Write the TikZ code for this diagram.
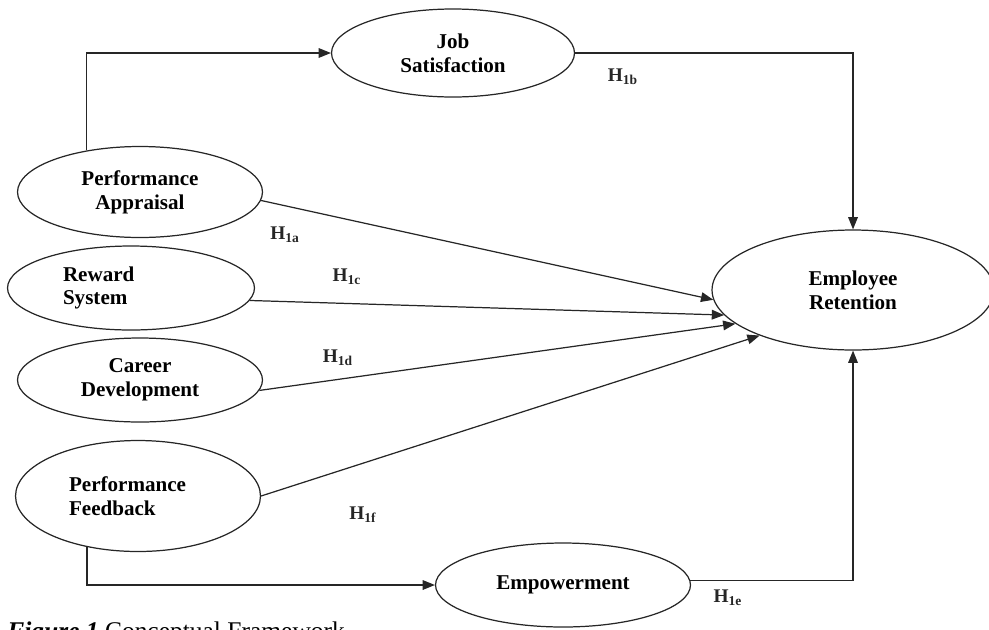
\documentclass[tikz,border=0pt]{standalone}
\usepackage{fontspec}
\setmainfont{Liberation Serif}
\usepackage{tikz}
\usetikzlibrary{shapes.geometric,arrows.meta}

\begin{document}
\begin{tikzpicture}[
  x=0.02cm, y=-0.02cm,
  cons/.style={ellipse, draw=black!85, line width=0.7pt, inner sep=0pt, align=center,
    font=\bfseries\fontsize{12}{13.5}\selectfont},
  flow/.style={-{Triangle[length=7pt,width=5.5pt]}, draw=black!85, line width=0.7pt},
  hyp/.style={font=\bfseries\fontsize{11}{12}\selectfont, text=black!85}
]
\useasboundingbox (0,0) rectangle (989,629);
\clip (0,0) rectangle (989,629);

% Left: the five practices
\node[cons, minimum width=4.9cm, minimum height=1.82cm] (pa) at (140,192) {Performance\\Appraisal};
\node[cons, minimum width=4.94cm, minimum height=1.68cm, text width=2.72cm, align=left] (rew) at (131,288) {Reward\\System};
\node[cons, minimum width=4.9cm, minimum height=1.68cm] (car) at (140,380) {Career\\Development};
\node[cons, minimum width=4.9cm, minimum height=2.22cm, text width=2.76cm, align=left] (fb) at (138,496) {Performance\\Feedback};

% Mediators and outcome
\node[cons, minimum width=4.86cm, minimum height=1.76cm] (job) at (453,53) {Job\\Satisfaction};
\node[cons, minimum width=5.1cm, minimum height=1.68cm] (emp) at (563,585) {Empowerment};
\node[cons, minimum width=5.64cm, minimum height=2.4cm] (ret) at (853,290) {Employee\\Retention};

\draw[flow] (pa.142) |- (job.west);
\draw[flow] (job.east) -| (ret.north);
\draw[flow] (pa.-4) -- (ret.184);
\draw[flow] (rew.-6) -- (ret.191);
\draw[flow] (car.-5) -- (ret.196);
\draw[flow] (fb.east) -- (ret.206);
\draw[flow] (fb.225) |- (emp.west);
\draw[flow] (emp.2) -| (ret.south);

% Hypothesis labels
\node[hyp] (h1a) at (285,235) {H\textsubscript{1a}};
\node[hyp] (h1b) at (623,77) {H\textsubscript{1b}};
\node[hyp] (h1c) at (347,277) {H\textsubscript{1c}};
\node[hyp] (h1d) at (338,358) {H\textsubscript{1d}};
\node[hyp] (h1e) at (728,598) {H\textsubscript{1e}};
\node[hyp] (h1f) at (363,515) {H\textsubscript{1f}};

\node[anchor=base west, inner sep=0pt, font=\fontsize{14.5}{16}\selectfont] (cap) at (7,639) {\textbf{\textit{Figure 1}} Conceptual Framework};
\end{tikzpicture}
\end{document}
